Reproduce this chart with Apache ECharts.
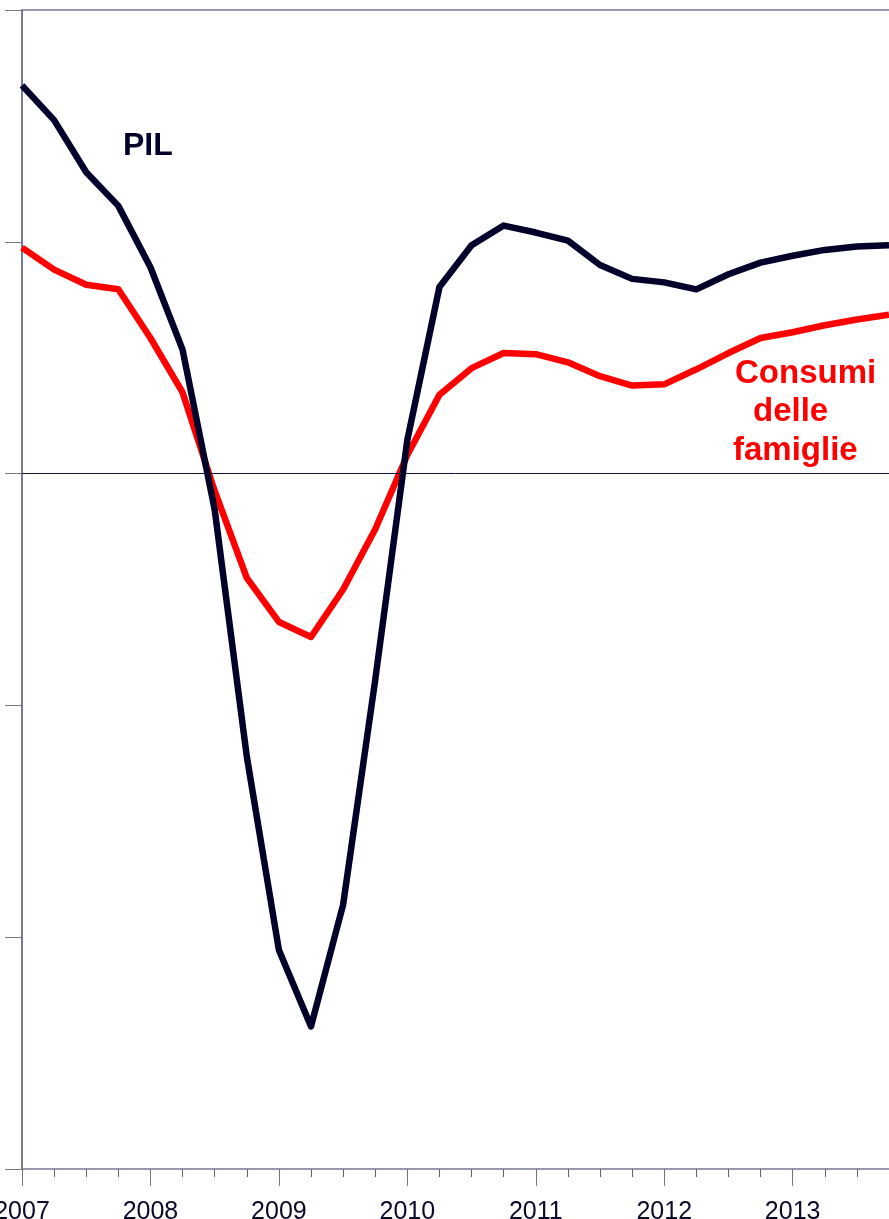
<!DOCTYPE html>
<html>
<head>
<meta charset="utf-8">
<script src="https://cdn.jsdelivr.net/npm/echarts@6/dist/echarts.min.js"></script>
<style>
  html, body { margin: 0; padding: 0; background: #fff; }
  #chart { width: 889px; height: 1219px; }
</style>
</head>
<body>
<div id="chart"></div>
<script>
// anni e trimestri dell'asse x
const years = ['2007', '2008', '2009', '2010', '2011', '2012', '2013']
const quarters = []
years.forEach(function (y) {
  ['T1', 'T2', 'T3', 'T4'].forEach(function (q) { quarters.push(y + ' ' + q) })
})

// valori (var. % tendenziali)
const pil = [3.35, 3.05, 2.60, 2.31, 1.78, 1.07, -0.31, -2.44, -4.11, -4.77, -3.72, -1.78, 0.29, 1.61,
  1.97, 2.14, 2.08, 2.01, 1.80, 1.68, 1.65, 1.59, 1.72, 1.82, 1.88, 1.93, 1.96, 1.97]
const consumi = [1.95, 1.76, 1.63, 1.59, 1.17, 0.70, -0.15, -0.90, -1.28, -1.41, -1.00, -0.48, 0.16, 0.68,
  0.91, 1.04, 1.03, 0.96, 0.84, 0.76, 0.77, 0.90, 1.04, 1.17, 1.22, 1.28, 1.33, 1.37]

;(function () {
  let myChart = echarts.init(document.getElementById('chart'))
  let axisColor = '#767a94'
  let textColor = '#0a0a2a'
  let redFont = 'bold 33px "Liberation Sans", Arial, sans-serif'

  let option = {
    animation: false,
    backgroundColor: '#fff',
    grid: { left: 22, right: 0, top: 10, bottom: 50, containLabel: false, outerBoundsMode: 'none' },
    xAxis: [
      // asse principale con tacche trimestrali
      {
        type: 'category',
        data: quarters,
        boundaryGap: false,
        position: 'bottom',
        axisLine: { onZero: false, lineStyle: { color: axisColor, width: 1.5 } },
        axisTick: { interval: 0, length: 8, lineStyle: { color: '#666' } },
        axisLabel: {
          interval: 3,
          margin: 31,
          color: textColor,
          fontSize: 25,
          fontFamily: 'Liberation Sans, Arial, sans-serif',
          formatter: function (v) { return v.slice(0, 4) }
        },
        splitLine: { show: false }
      },
      // tacche lunghe sugli anni
      {
        type: 'category',
        data: quarters,
        boundaryGap: false,
        position: 'bottom',
        axisLine: { show: false, onZero: false },
        axisTick: { interval: 3, length: 17, lineStyle: { color: '#777' } },
        axisLabel: { show: false },
        splitLine: { show: false }
      },
      // bordo superiore
      {
        type: 'category',
        data: quarters,
        boundaryGap: false,
        position: 'top',
        axisLine: { onZero: false, lineStyle: { color: axisColor, width: 1.5 } },
        axisTick: { show: false },
        axisLabel: { show: false }
      }
    ],
    yAxis: {
      type: 'value',
      min: -6,
      max: 4,
      interval: 2,
      axisLine: { show: true, onZero: false, lineStyle: { color: axisColor, width: 2 } },
      axisTick: { show: true, length: 17, lineStyle: { color: '#777' } },
      axisLabel: { show: false },
      splitLine: { show: false }
    },
    series: [
      {
        name: 'Consumi delle famiglie',
        type: 'line',
        data: consumi,
        symbol: 'none',
        lineStyle: { color: '#ff0000', width: 6.5, join: 'round' },
        // linea dello zero
        markLine: {
          silent: true,
          symbol: 'none',
          label: { show: false },
          lineStyle: { color: '#14143a', width: 1, type: 'solid' },
          data: [{ yAxis: 0 }]
        },
        z: 3
      },
      {
        name: 'PIL',
        type: 'line',
        data: pil,
        symbol: 'none',
        lineStyle: { color: '#00002a', width: 6.5, join: 'round' },
        z: 4
      }
    ],
    graphic: [
      {
        type: 'text', left: 123, top: 130,
        style: { text: 'PIL', fill: '#00002a', font: 'bold 32px "Liberation Sans", Arial, sans-serif' }
      },
      {
        type: 'text', left: 735, top: 357,
        style: { text: 'Consumi', fill: '#ff0000', font: redFont }
      },
      {
        type: 'text', left: 753, top: 395,
        style: { text: 'delle', fill: '#ff0000', font: redFont }
      },
      {
        type: 'text', left: 733, top: 434,
        style: { text: 'famiglie', fill: '#ff0000', font: redFont }
      }
    ]
  }

  myChart.setOption(option)

  window.addEventListener('resize', function () {
    myChart.resize()
  })
})()
</script>
</body>
</html>
